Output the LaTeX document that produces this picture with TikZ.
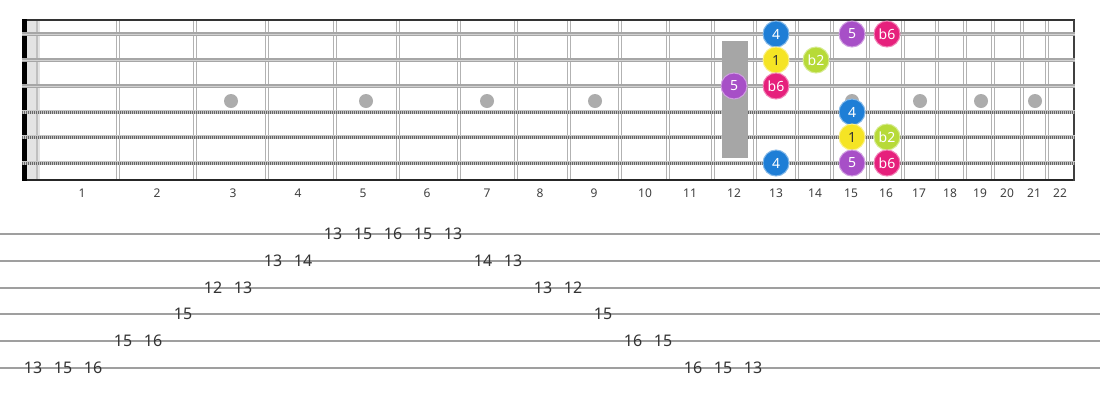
\documentclass[tikz,border=0pt]{standalone}
\usepackage{fontspec}
\setmainfont{Noto Sans}

\definecolor{rootcol}{HTML}{F5E424}
\definecolor{flattwo}{HTML}{B7DA38}
\definecolor{fourcol}{HTML}{1E7ED6}
\definecolor{fivecol}{HTML}{A74FC7}
\definecolor{flatsix}{HTML}{E6207C}

\begin{document}
\begin{tikzpicture}[x=1pt, y=-1pt,
	fret/.style={draw=gray!60, double=white, double distance=1.8pt, line width=1pt},
	plainstr/.style={draw=gray!70, line width=3.2pt, postaction={draw=gray!35, line width=1pt}},
	woundstr/.style={draw=gray!45, line width=3.6pt, postaction={draw=black!60, line width=3pt, dash pattern=on 1pt off 1pt}},
	marker/.style={shape=circle, fill=gray!65, minimum size=14pt, inner sep=0pt},
	note/.style={shape=circle, fill=#1, draw=#1!55!white, line width=1pt, minimum size=26pt, inner sep=0pt, text=white, font=\fontsize{14}{14}\selectfont},
	fretnum/.style={font=\fontsize{12}{12}\selectfont, text=black!75, inner sep=0pt},
	tabnum/.style={font=\fontsize{16}{16}\selectfont, text=black!80, inner sep=0pt},
	tabline/.style={draw=gray!75, line width=1.4pt}]

	\useasboundingbox[fill=white] (0, 0) rectangle (1100, 400);

	% fretboard
	\fill[gray!22] (27, 20) rectangle (40, 180);
	\draw[gray!50, line width=2pt] (37, 20) -- (37, 180);
	\foreach \fx in {118, 195, 267, 335, 398, 459, 516, 569, 620, 668, 713, 755, 797, 832, 868, 903, 937, 965, 993, 1022, 1047}
		\draw[fret] (\fx, 21) -- (\fx, 179);
	\draw[black!80, line width=1.5pt] (22, 20) -- (1075, 20);
	\draw[black!85, line width=1.5pt] (22, 180) -- (1075, 180);
	\draw[black!75, line width=2pt] (1074, 20) -- (1074, 181);
	\fill[black] (22, 19.25) rectangle (27, 180.75);

	% strings
	\draw[plainstr] (22, 34) -- (1075, 34);
	\draw[plainstr] (22, 60) -- (1075, 60);
	\draw[plainstr] (22, 86) -- (1075, 86);
	\draw[woundstr] (22, 112) -- (1075, 112);
	\draw[woundstr] (22, 137) -- (1075, 137);
	\draw[woundstr] (22, 163) -- (1075, 163);

	% inlays
	\node[marker] (m3)  at (231, 101)  {};
	\node[marker] (m5)  at (366, 101)  {};
	\node[marker] (m7)  at (487, 101)  {};
	\node[marker] (m9)  at (595, 101)  {};
	\node[marker] (m15) at (852, 101)  {};
	\node[marker] (m17) at (920, 101)  {};
	\node[marker] (m19) at (981, 101)  {};
	\node[marker] (m21) at (1035, 101) {};
	\fill[gray!70] (722, 41) rectangle (748, 158);

	% scale notes
	\node[note=fourcol] (a4) at (776, 34)  {4};
	\node[note=fivecol] (a5) at (852, 34)  {5};
	\node[note=flatsix] (a6) at (887, 34)  {b6};
	\node[note=rootcol, text=black!80] (b1) at (776, 60) {1};
	\node[note=flattwo] (b2) at (816, 60)  {b2};
	\node[note=fivecol] (c5) at (734, 86)  {5};
	\node[note=flatsix] (c6) at (776, 86)  {b6};
	\node[note=fourcol] (d4) at (852, 112) {4};
	\node[note=rootcol, text=black!80] (e1) at (852, 137) {1};
	\node[note=flattwo] (e2) at (887, 137) {b2};
	\node[note=fourcol] (g4) at (776, 163) {4};
	\node[note=fivecol] (g5) at (852, 163) {5};
	\node[note=flatsix] (g6) at (887, 163) {b6};

	% fret numbers
	\foreach \n/\lx in {1/82, 2/157, 3/233, 4/298, 5/363, 6/427, 7/487, 8/540, 9/594, 10/645, 11/690, 12/734, 13/776, 14/815, 15/851, 16/886, 17/919, 18/950, 19/980, 20/1007, 21/1034, 22/1060}
		\node[fretnum] (f\n) at (\lx, 193) {\n};

	% tab
	\draw[tabline] (0, 234) -- (1100, 234);
	\draw[tabline] (0, 261) -- (1100, 261);
	\draw[tabline] (0, 288) -- (1100, 288);
	\draw[tabline] (0, 314) -- (1100, 314);
	\draw[tabline] (0, 341) -- (1100, 341);
	\draw[tabline] (0, 368) -- (1100, 368);

	\node[tabnum] (t1)  at (33, 368)  {13};
	\node[tabnum] (t2)  at (63, 368)  {15};
	\node[tabnum] (t3)  at (93, 368)  {16};
	\node[tabnum] (t4)  at (123, 341) {15};
	\node[tabnum] (t5)  at (153, 341) {16};
	\node[tabnum] (t6)  at (183, 314) {15};
	\node[tabnum] (t7)  at (213, 288) {12};
	\node[tabnum] (t8)  at (243, 288) {13};
	\node[tabnum] (t9)  at (273, 261) {13};
	\node[tabnum] (t10) at (303, 261) {14};
	\node[tabnum] (t11) at (333, 234) {13};
	\node[tabnum] (t12) at (363, 234) {15};
	\node[tabnum] (t13) at (393, 234) {16};
	\node[tabnum] (t14) at (423, 234) {15};
	\node[tabnum] (t15) at (453, 234) {13};
	\node[tabnum] (t16) at (483, 261) {14};
	\node[tabnum] (t17) at (513, 261) {13};
	\node[tabnum] (t18) at (543, 288) {13};
	\node[tabnum] (t19) at (573, 288) {12};
	\node[tabnum] (t20) at (603, 314) {15};
	\node[tabnum] (t21) at (633, 341) {16};
	\node[tabnum] (t22) at (663, 341) {15};
	\node[tabnum] (t23) at (693, 368) {16};
	\node[tabnum] (t24) at (723, 368) {15};
	\node[tabnum] (t25) at (753, 368) {13};

\end{tikzpicture}
\end{document}
